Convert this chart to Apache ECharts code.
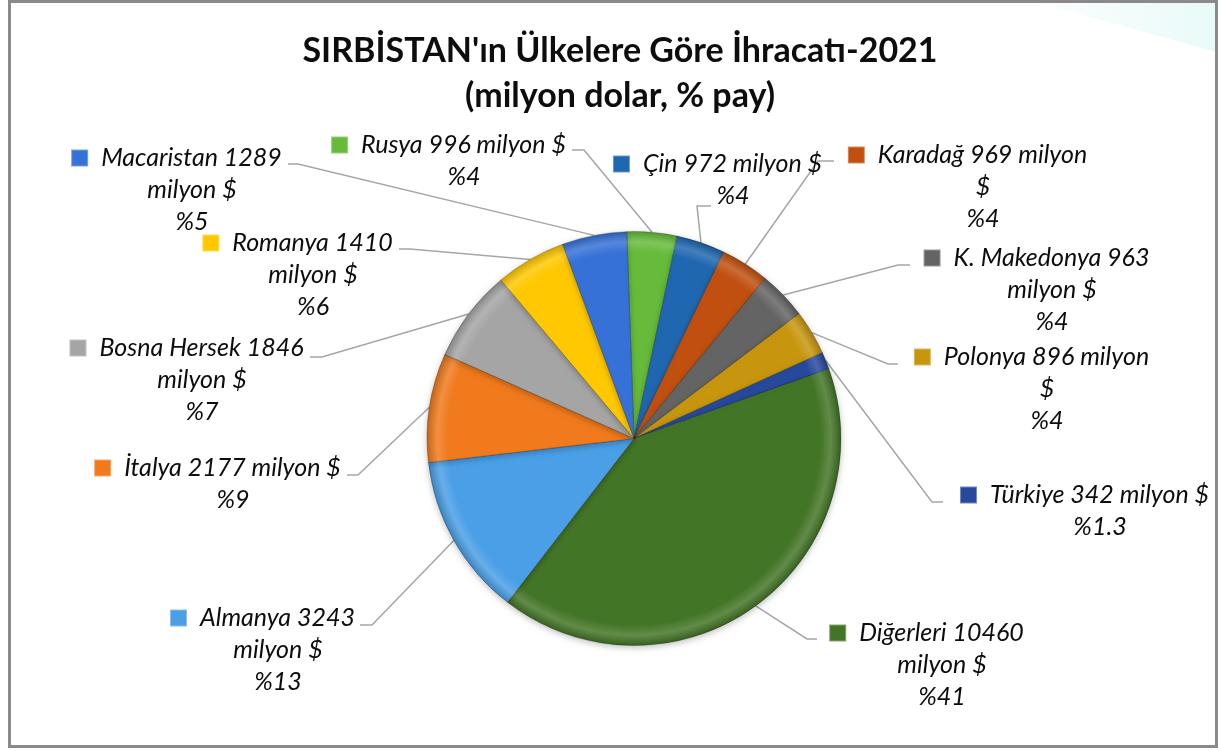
<!DOCTYPE html>
<html>
<head>
<meta charset="utf-8">
<title>Sırbistan ihracatı 2021</title>
<script src="https://cdn.jsdelivr.net/npm/echarts@6/dist/echarts.min.js"></script>
<style>
    html, body { margin: 0; padding: 0; background: #fff; }
    #chart { width: 1220px; height: 751px; }
</style>
</head>
<body>
<div id="chart"></div>
<script>
// slice order follows the picture, clockwise from the top
var countries = ['Rusya', 'Çin', 'Karadağ', 'K. Makedonya', 'Polonya', 'Türkiye',
    'Diğerleri', 'Almanya', 'İtalya', 'Bosna Hersek', 'Romanya', 'Macaristan'];
var exportValues = [996, 972, 969, 963, 896, 342, 10460, 3243, 2177, 1846, 1410, 1289];
var sharePct = ['4', '4', '4', '4', '4', '1.3', '41', '13', '9', '7', '6', '5'];

var sliceColors = ['#66bb3a', '#1f67b0', '#c14f10', '#646464', '#c7960e', '#27499c',
    '#437526', '#4a9fe6', '#f07a1c', '#a5a5a5', '#ffc800', '#3571d6'];

// how the label text is broken into lines
// 0: "name value" / "milyon $" / "%x"   1: "name value milyon $" / "%x"   2: "name value milyon" / "$" / "%x"
var labelWrap = [1, 1, 2, 0, 2, 1, 0, 0, 1, 0, 0, 0];

// label text centre x, first line centre y
var labelPos = [[464, 145], [733, 164], [983, 155], [1052, 258], [1047, 357], [1100, 495],
    [942, 633], [278, 618], [233, 468], [202, 348], [313, 243], [192, 158]];
// leader bend and end points near each label
var leaderPts = [
    [[584, 150], [572, 150]],
    [[697, 206], [711, 206]],
    [[818, 161], [834, 161]],
    [[898, 265], [910, 265]],
    [[888, 364], [898, 364]],
    [[932, 502], [943, 502]],
    [[807, 639], [817, 639]],
    [[372, 625], [360, 625]],
    [[358, 475], [347, 475]],
    [[322, 357], [310, 357]],
    [[410, 249], [399, 249]],
    [[298, 164], [288, 164]]
];

var pieCenter = [634, 438.5];
var pieRadius = 207;
var startAngle = 92;

var chart = echarts.init(document.getElementById('chart'));

var rich = {
    t: { fontFamily: 'Lato', fontStyle: 'italic', fontSize: 25, color: '#0d0d0d', lineHeight: 32, align: 'center' },
    gap: { width: 14, align: 'center' },
    pad: { width: 30, align: 'center' }
};
sliceColors.forEach(function (c, i) {
    rich['ic' + i] = {
        width: 15, height: 15, backgroundColor: c, align: 'center',
        borderColor: echarts.color.lift(c, 0.35), borderWidth: 1
    };
});

function labelText(i) {
    var head = '{ic' + i + '|}{gap|}';
    var name = countries[i] + ' ' + exportValues[i];
    var pct = '{t|%' + sharePct[i] + '}';
    if (labelWrap[i] === 1) {
        return head + '{t|' + name + ' milyon $}{pad|}\n' + pct;
    }
    if (labelWrap[i] === 2) {
        return head + '{t|' + name + ' milyon}{pad|}\n{t|$}\n' + pct;
    }
    return head + '{t|' + name + '}{pad|}\n{t|milyon $}\n' + pct;
}

var total = exportValues.reduce(function (a, b) { return a + b; }, 0);

function edgePoint(i) {
    var before = 0;
    for (var k = 0; k < i; k++) before += exportValues[k];
    var mid = (startAngle - (before + exportValues[i] / 2) / total * 360) * Math.PI / 180;
    return [pieCenter[0] + pieRadius * Math.cos(mid), pieCenter[1] - pieRadius * Math.sin(mid)];
}

var pieData = countries.map(function (name, i) {
    return { name: name, value: exportValues[i], itemStyle: { color: sliceColors[i] } };
});

chart.setOption({
    backgroundColor: '#ffffff',
    animation: false,
    title: {
        text: "SIRBİSTAN'ın Ülkelere Göre İhracatı-2021\n(milyon dolar, % pay)",
        left: 615,
        top: 24,
        textAlign: 'center',
        textStyle: {
            fontFamily: 'Lato',
            fontWeight: 'bold',
            fontSize: 34,
            lineHeight: 45,
            color: '#0d0d0d'
        }
    },
    graphic: [
        {
            type: 'polygon',
            silent: true,
            z: -1,
            shape: { points: [[1040, 3], [1216, 3], [1216, 52]] },
            style: {
                fill: {
                    type: 'linear', x: 0, y: 0, x2: 1, y2: 0,
                    colorStops: [
                        { offset: 0, color: 'rgba(215,245,242,0.1)' },
                        { offset: 1, color: 'rgba(210,246,242,0.5)' }
                    ]
                }
            }
        },
        {
            type: 'rect',
            silent: true,
            shape: { x: 9.5, y: 1.5, width: 1207, height: 745 },
            style: { fill: 'none', stroke: '#8a8a8a', lineWidth: 3 }
        }
    ],
    series: [
        {
            type: 'pie',
            center: pieCenter,
            radius: pieRadius,
            startAngle: startAngle,
            clockwise: true,
            avoidLabelOverlap: false,
            data: pieData,
            itemStyle: {
                borderColor: 'rgba(0,0,0,0.22)',
                borderWidth: 1,
                shadowBlur: 6,
                shadowColor: 'rgba(0,0,0,0.25)',
                shadowOffsetY: 2
            },
            label: {
                show: true,
                position: 'outside',
                formatter: function (p) { return labelText(p.dataIndex); },
                rich: rich
            },
            labelLine: {
                show: true,
                length: 20,
                length2: 10,
                lineStyle: { color: '#a6a6a6', width: 1.5 }
            },
            labelLayout: function (p) {
                var i = p.dataIndex;
                var start = (p.labelLinePoints && p.labelLinePoints[0]) || edgePoint(i);
                return {
                    x: labelPos[i][0],
                    y: labelPos[i][1] - 16,
                    align: 'center',
                    verticalAlign: 'top',
                    labelLinePoints: [start, leaderPts[i][0], leaderPts[i][1]]
                };
            }
        },
        {
            // bevel rim over the slices
            type: 'pie',
            center: pieCenter,
            radius: pieRadius,
            startAngle: startAngle,
            silent: true,
            label: { show: false },
            labelLine: { show: false },
            data: exportValues.map(function (v) { return { value: v }; }),
            itemStyle: {
                borderWidth: 0,
                color: {
                    type: 'radial', x: pieCenter[0], y: pieCenter[1], r: pieRadius, global: true,
                    colorStops: [
                        { offset: 0, color: 'rgba(255,255,255,0)' },
                        { offset: 0.9, color: 'rgba(255,255,255,0)' },
                        { offset: 0.95, color: 'rgba(255,255,255,0.16)' },
                        { offset: 1, color: 'rgba(0,0,0,0.18)' }
                    ]
                }
            }
        }
    ]
});
</script>
</body>
</html>
